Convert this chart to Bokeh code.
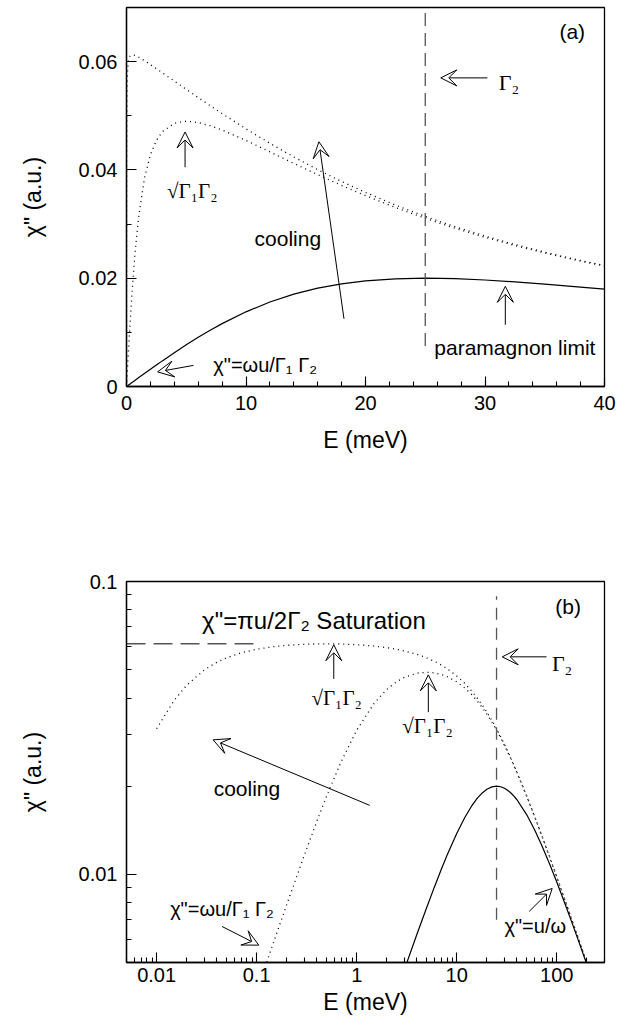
from bokeh.plotting import figure
from bokeh.models import (Arrow, VeeHead, Label, FixedTicker, CustomJSTickFormatter,
                          ColumnDataSource, Range1d)
from bokeh.layouts import column
from bokeh.embed import file_html
from bokeh.resources import INLINE

# Energy grid (meV)
E = [0, 0.01, 0.015, 0.02, 0.03, 0.04, 0.05, 0.07, 0.1, 0.15, 0.2, 0.3, 0.4, 0.5,
     0.7, 1, 1.5, 2, 2.5, 3, 4, 5, 6, 7, 8, 10, 12, 14, 16, 18, 20, 22.5, 25,
     27.5, 30, 32.5, 35, 37.5, 40, 50, 60, 70, 85, 100, 125, 150, 175, 200]

# chi'' for a very small Gamma_1 (coldest, saturated curve)
chi_cold = [0, 0.03141, 0.03930, 0.04427, 0.04993, 0.05299, 0.05488, 0.05707,
            0.05871, 0.05995, 0.06054, 0.06104, 0.06122, 0.06126, 0.06117,
            0.06086, 0.06019, 0.05946, 0.05871, 0.05794, 0.05641, 0.05488,
            0.05337, 0.05188, 0.05041, 0.04759, 0.04492, 0.04240, 0.04005,
            0.03786, 0.03584, 0.03352, 0.03141, 0.02951, 0.02779, 0.02623,
            0.02481, 0.02352, 0.02234, 0.01855, 0.01579, 0.01372, 0.01144,
            0.00980, 0.00790, 0.00661, 0.00568, 0.00497]

# chi'' for intermediate Gamma_1 (peak near sqrt(G1 G2))
chi_mid = [0, 0.000400, 0.000600, 0.000800, 0.001200, 0.001599, 0.001998,
           0.002795, 0.003986, 0.005954, 0.007892, 0.011644, 0.015188,
           0.018485, 0.024281, 0.031059, 0.038453, 0.042805, 0.045443,
           0.047067, 0.048632, 0.049000, 0.048754, 0.048162, 0.047364,
           0.045443, 0.043339, 0.041208, 0.039128, 0.037136, 0.035254,
           0.033066, 0.031059, 0.029228, 0.027559, 0.026039, 0.024654,
           0.023389, 0.022234, 0.018485, 0.015755, 0.013697, 0.011429,
           0.009791, 0.007891, 0.006603, 0.005674, 0.004973]

# chi'' in the paramagnon limit (G1 = G2)
chi_para = [0, 0.000016, 0.000024, 0.000032, 0.000048, 0.000064, 0.000080,
            0.000112, 0.000160, 0.000240, 0.000320, 0.000480, 0.000640,
            0.000799, 0.001119, 0.001597, 0.002391, 0.003180, 0.003960,
            0.004732, 0.006240, 0.007692, 0.009077, 0.010386, 0.011611,
            0.013793, 0.015605, 0.017052, 0.018161, 0.018967, 0.019512,
            0.019890, 0.020000, 0.019910, 0.019672, 0.019331, 0.018919,
            0.018462, 0.017978, 0.016000, 0.014201, 0.012670, 0.010828,
            0.009412, 0.007692, 0.006486, 0.005600, 0.004923]

GAMMA2 = 25.0          # meV, position of the dashed marker
SATURATION = 0.0613    # pi u / 2 Gamma_2 plateau

SANS = "Liberation Sans"
SERIF = "Liberation Serif"
DOTS = "1 4"


def style_axes(p, xlabel_standoff, xtick_standoff):
    for ax in (p.xaxis[0], p.yaxis[0]):
        ax.axis_line_color = "black"
        ax.axis_line_width = 1.3
        ax.major_tick_in = 10
        ax.major_tick_out = 0
        ax.minor_tick_in = 5
        ax.minor_tick_out = 0
        ax.major_tick_line_color = "black"
        ax.minor_tick_line_color = "black"
        ax.major_tick_line_width = 1.1
        ax.minor_tick_line_width = 1.1
        ax.major_label_text_font = SANS
        ax.major_label_text_font_size = "20px"
        ax.major_label_text_color = "black"
        ax.axis_label_text_font = SANS
        ax.axis_label_text_font_size = "23px"
        ax.axis_label_text_font_style = "normal"
        ax.axis_label_text_color = "black"
    p.yaxis[0].major_label_standoff = 9
    p.yaxis[0].axis_label_standoff = 30
    p.xaxis[0].major_label_standoff = xtick_standoff
    p.xaxis[0].axis_label_standoff = xlabel_standoff
    p.xgrid.visible = False
    p.ygrid.visible = False
    p.outline_line_color = "black"
    p.outline_line_width = 1.3
    p.background_fill_color = "white"
    p.border_fill_color = "white"


def arrow(p, x0, y0, x1, y1):
    p.add_layout(Arrow(end=VeeHead(size=16, fill_color="white", line_color="black",
                                   line_width=1),
                       x_start=x0, y_start=y0, x_end=x1, y_end=y1,
                       line_color="black", line_width=1))


def label(p, x, y, text, font=SANS, size="21px", align="center"):
    p.add_layout(Label(x=x, y=y, text=text, text_font=font, text_font_size=size,
                       text_align=align, text_baseline="middle", text_color="black"))


# ---------------- panel (a): linear axes ----------------
lin = [i for i, e in enumerate(E) if e <= 40]
src_a = ColumnDataSource(dict(E=[E[i] for i in lin],
                              cold=[chi_cold[i] for i in lin],
                              mid=[chi_mid[i] for i in lin],
                              para=[chi_para[i] for i in lin]))

pa = figure(width=618, height=480, x_range=Range1d(0, 40), y_range=Range1d(0, 0.07),
            output_backend="svg", toolbar_location=None,
            min_border_left=126, min_border_right=14, min_border_top=7,
            min_border_bottom=94, x_axis_label="E (meV)", y_axis_label='χ" (a.u.)')
style_axes(pa, xlabel_standoff=14, xtick_standoff=9)
pa.xaxis.ticker = FixedTicker(ticks=[0, 10, 20, 30, 40],
                              minor_ticks=list(range(0, 41, 2)))
pa.yaxis.ticker = FixedTicker(ticks=[0, 0.02, 0.04, 0.06],
                              minor_ticks=[0.01, 0.03, 0.05, 0.07])
pa.yaxis.formatter = CustomJSTickFormatter(code="return tick == 0 ? '0' : tick.toFixed(2);")

pa.line("E", "cold", source=src_a, line_color="black", line_width=1.3, line_dash=DOTS)
pa.line("E", "mid", source=src_a, line_color="black", line_width=1.3, line_dash=DOTS)
pa.line("E", "para", source=src_a, line_color="black", line_width=1.2)
pa.segment(x0=[GAMMA2], y0=[0.0075], x1=[GAMMA2], y1=[0.07], line_color="#555555",
           line_width=1.3, line_dash="13 7")

label(pa, 37.3, 0.0655, "(a)", size="21px")
arrow(pa, 30.2, 0.057, 26.3, 0.057)
label(pa, 32.0, 0.0562, "Γ₂", font=SERIF, size="22px")
arrow(pa, 4.9, 0.0405, 4.9, 0.0470)
label(pa, 5.5, 0.0361, "√Γ₁Γ₂", font=SERIF, size="21px")
arrow(pa, 18.2, 0.0125, 16.1, 0.0452)
label(pa, 13.5, 0.0273, "cooling")
arrow(pa, 31.7, 0.0114, 31.7, 0.0185)
label(pa, 32.5, 0.0072, "paramagnon limit")
arrow(pa, 5.6, 0.0039, 2.6, 0.0027)
label(pa, 11.6, 0.0039, 'χ"=ωu/Γ₁ Γ₂', size="20px")

# ---------------- panel (b): log-log axes ----------------
pos = [i for i, e in enumerate(E) if e > 0]
src_b = ColumnDataSource(dict(E=[E[i] for i in pos],
                              cold=[chi_cold[i] for i in pos],
                              mid=[chi_mid[i] for i in pos],
                              para=[chi_para[i] for i in pos]))

pb = figure(width=618, height=553, x_range=Range1d(0.005, 300), y_range=Range1d(0.005, 0.1),
            x_axis_type="log", y_axis_type="log",
            output_backend="svg", toolbar_location=None,
            min_border_left=126, min_border_right=14, min_border_top=101,
            min_border_bottom=71, x_axis_label="E (meV)", y_axis_label='χ" (a.u.)')
style_axes(pb, xlabel_standoff=4, xtick_standoff=5)
decade_minors = [m * 10.0 ** k for k in range(-3, 3) for m in range(2, 10)]
pb.xaxis.ticker = FixedTicker(ticks=[0.01, 0.1, 1, 10, 100], minor_ticks=decade_minors)
pb.yaxis.ticker = FixedTicker(ticks=[0.01, 0.1], minor_ticks=decade_minors)
pb.xaxis.formatter = CustomJSTickFormatter(
    code="return tick >= 1 ? tick.toFixed(0) : tick.toPrecision(1);")
pb.yaxis.formatter = CustomJSTickFormatter(
    code="return tick >= 1 ? tick.toFixed(0) : tick.toPrecision(1);")

pb.line("E", "cold", source=src_b, line_color="black", line_width=1.3, line_dash=DOTS)
pb.line("E", "mid", source=src_b, line_color="black", line_width=1.3, line_dash=DOTS)
pb.line("E", "para", source=src_b, line_color="black", line_width=1.2)
pb.segment(x0=[GAMMA2], y0=[0.0070], x1=[GAMMA2], y1=[0.089], line_color="#555555",
           line_width=1.3, line_dash="12 8")
pb.segment(x0=[0.005], y0=[SATURATION], x1=[0.1], y1=[SATURATION], line_color="#555555",
           line_width=1.3, line_dash="19 8")

label(pb, 0.0285, 0.0735, 'χ"=πu/2Γ₂  Saturation', size="24px", align="left")
label(pb, 130, 0.082, "(b)", size="21px")
arrow(pb, 79, 0.0553, 28.5, 0.0553)
label(pb, 113, 0.0525, "Γ₂", font=SERIF, size="22px")
arrow(pb, 0.59, 0.0465, 0.59, 0.0608)
label(pb, 0.63, 0.0401, "√Γ₁Γ₂", font=SERIF, size="21px")
arrow(pb, 5.2, 0.0358, 5.2, 0.0480)
label(pb, 5.1, 0.0321, "√Γ₁Γ₂", font=SERIF, size="21px")
arrow(pb, 1.35, 0.0172, 0.0367, 0.0288)
label(pb, 0.080, 0.0197, "cooling")
arrow(pb, 0.045, 0.00664, 0.105, 0.00573)
label(pb, 0.045, 0.00759, 'χ"=ωu/Γ₁ Γ₂', size="20px")
arrow(pb, 53, 0.00747, 90, 0.00895)
label(pb, 61, 0.00664, 'χ"=u/ω', size="20px")

layout = column(pa, pb, spacing=0)
open("out.html", "w").write(file_html(layout, INLINE))
